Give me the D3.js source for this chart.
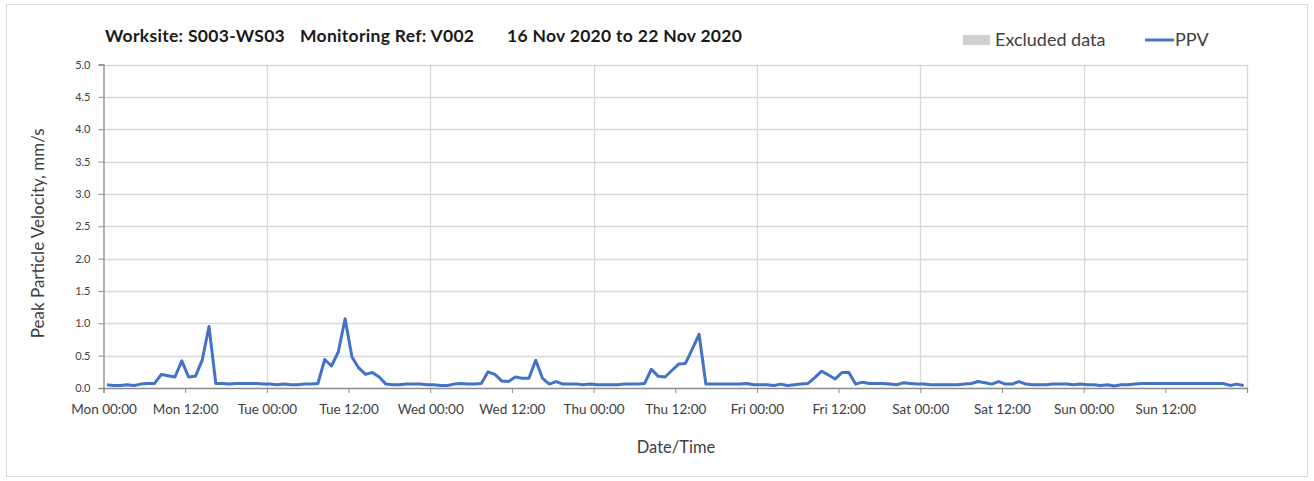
<!DOCTYPE html>
<html>
<head>
<meta charset="utf-8">
<script src="https://cdn.jsdelivr.net/npm/d3@7"></script>
<style>
  html, body { margin: 0; padding: 0; background: #fff; }
  svg { display: block; font-family: Lato, "Open Sans", sans-serif; }
</style>
</head>
<body>
<svg id="chart" width="1314" height="481"></svg>
<script>
// ---- Data ----
const titleParts = ["Worksite: S003-WS03", "Monitoring Ref: V002", "16 Nov 2020 to 22 Nov 2020"];
const legendLabels = ["Excluded data", "PPV"];
const yTickValues = [0, 0.5, 1.0, 1.5, 2.0, 2.5, 3.0, 3.5, 4.0, 4.5, 5.0];
const xTickLabels = ["Mon 00:00", "Mon 12:00", "Tue 00:00", "Tue 12:00", "Wed 00:00", "Wed 12:00",
  "Thu 00:00", "Thu 12:00", "Fri 00:00", "Fri 12:00", "Sat 00:00", "Sat 12:00", "Sun 00:00", "Sun 12:00"];
const periodStart = new Date(2020, 10, 16, 0, 0);
const periodEnd = new Date(2020, 10, 23, 0, 0);
const firstReading = new Date(2020, 10, 16, 0, 30);   // hourly readings
const ppvValues = [
  // Mon
  0.05, 0.04, 0.04, 0.05, 0.04, 0.06, 0.07, 0.07, 0.21, 0.19, 0.17, 0.42,
  0.17, 0.18, 0.43, 0.95, 0.07, 0.07, 0.06, 0.07, 0.07, 0.07, 0.07, 0.06,
  // Tue
  0.06, 0.05, 0.06, 0.05, 0.05, 0.06, 0.06, 0.07, 0.44, 0.34, 0.56, 1.07,
  0.48, 0.31, 0.21, 0.24, 0.17, 0.06, 0.05, 0.05, 0.06, 0.06, 0.06, 0.05,
  // Wed
  0.05, 0.04, 0.04, 0.06, 0.07, 0.06, 0.06, 0.07, 0.25, 0.21, 0.11, 0.10,
  0.17, 0.15, 0.15, 0.43, 0.15, 0.06, 0.10, 0.06, 0.06, 0.06, 0.05, 0.06,
  // Thu
  0.05, 0.05, 0.05, 0.05, 0.06, 0.06, 0.06, 0.07, 0.29, 0.18, 0.17, 0.27,
  0.37, 0.38, 0.60, 0.83, 0.06, 0.06, 0.06, 0.06, 0.06, 0.06, 0.07, 0.05,
  // Fri
  0.05, 0.05, 0.04, 0.06, 0.04, 0.05, 0.06, 0.07, 0.16, 0.26, 0.20, 0.14,
  0.24, 0.24, 0.06, 0.09, 0.07, 0.07, 0.07, 0.06, 0.05, 0.08, 0.07, 0.06,
  // Sat
  0.06, 0.05, 0.05, 0.05, 0.05, 0.05, 0.06, 0.07, 0.10, 0.08, 0.06, 0.10,
  0.06, 0.06, 0.10, 0.06, 0.05, 0.05, 0.05, 0.06, 0.06, 0.06, 0.05, 0.06,
  // Sun
  0.05, 0.05, 0.04, 0.05, 0.03, 0.05, 0.05, 0.06, 0.07, 0.07, 0.07, 0.07,
  0.07, 0.07, 0.07, 0.07, 0.07, 0.07, 0.07, 0.07, 0.07, 0.04, 0.06, 0.04
];

// ---- Build ----
const HOUR = 3600 * 1000;
const readings = ppvValues.map((v, i) => ({ t: new Date(firstReading.getTime() + i * HOUR), v }));

const svg = d3.select("#chart");
const plot = { left: 103.5, right: 1247, top: 64.5, bottom: 388 };

const x = d3.scaleTime().domain([periodStart, periodEnd]).range([plot.left, plot.right]);
const y = d3.scaleLinear().domain([0, 5]).range([plot.bottom, plot.top]);

// outer border
svg.append("rect").attr("x", 6.5).attr("y", 4.5).attr("width", 1301).attr("height", 472)
  .attr("fill", "#fff").attr("stroke", "#d9d9d9").attr("stroke-width", 1);

const gridColor = "#d9d9d9";
const axisColor = "#8c8c8c";

// horizontal gridlines
svg.append("g").selectAll("line").data(yTickValues.filter(d => d > 0)).join("line")
  .attr("x1", plot.left).attr("x2", plot.right)
  .attr("y1", d => Math.round(y(d)) + 0.5).attr("y2", d => Math.round(y(d)) + 0.5)
  .attr("stroke", gridColor).attr("stroke-width", 1.3);

// vertical gridlines at day boundaries
const dayTicks = d3.timeDay.range(d3.timeDay.offset(periodStart, 1), d3.timeDay.offset(periodEnd, 1));
svg.append("g").selectAll("line").data(dayTicks).join("line")
  .attr("x1", d => Math.round(x(d)) + 0.5).attr("x2", d => Math.round(x(d)) + 0.5)
  .attr("y1", plot.top).attr("y2", plot.bottom)
  .attr("stroke", gridColor).attr("stroke-width", 1.3);

// y axis
const yAxis = d3.axisLeft(y).tickValues(yTickValues).tickSize(5).tickPadding(8)
  .tickFormat(d3.format(".1f"));
const gy = svg.append("g").attr("transform", `translate(${plot.left},0)`).call(yAxis);
gy.select(".domain").attr("stroke", axisColor).attr("stroke-width", 1.3);
gy.selectAll(".tick line").attr("stroke", axisColor);
gy.selectAll(".tick text").attr("fill", "#404040").style("font-size", "11px")
  .style("font-family", "Lato, sans-serif");

// x axis
const xTicks = d3.timeHour.every(12).range(periodStart, d3.timeHour.offset(periodEnd, 1));
const xAxis = d3.axisBottom(x).tickValues(xTicks).tickSize(5).tickPadding(11)
  .tickFormat((d, i) => xTickLabels[i] || "");
const gx = svg.append("g").attr("transform", `translate(0,${plot.bottom})`).call(xAxis);
gx.select(".domain").attr("stroke", axisColor).attr("stroke-width", 1.3);
gx.selectAll(".tick line").attr("stroke", axisColor);
gx.selectAll(".tick text").attr("fill", "#404040").style("font-size", "13.5px")
  .style("font-family", "Lato, sans-serif");

// PPV line
const line = d3.line().x(d => x(d.t)).y(d => y(d.v)).curve(d3.curveLinear);
svg.append("path").datum(readings).attr("d", line)
  .attr("fill", "none").attr("stroke", "#4472C4").attr("stroke-width", 3)
  .attr("stroke-linejoin", "round").attr("stroke-linecap", "butt");

// title
const titleX = [105, 300, 507];
svg.append("g").selectAll("text").data(titleParts).join("text")
  .attr("x", (d, i) => titleX[i]).attr("y", 42)
  .attr("fill", "#1a1a1a").style("font-weight", "bold").style("font-size", "17.5px")
  .style("letter-spacing", "0.3px")
  .style("font-family", "Lato, sans-serif")
  .text(d => d);

// legend
svg.append("rect").attr("x", 963).attr("y", 35).attr("width", 27).attr("height", 10).attr("fill", "#d0d0d0");
svg.append("text").attr("x", 995).attr("y", 46).attr("fill", "#404040")
  .style("font-size", "18px").text(legendLabels[0]);
svg.append("line").attr("x1", 1145).attr("x2", 1174).attr("y1", 40).attr("y2", 40)
  .attr("stroke", "#4472C4").attr("stroke-width", 3);
svg.append("text").attr("x", 1175).attr("y", 46).attr("fill", "#404040")
  .style("font-size", "18px").text(legendLabels[1]);

// axis titles
svg.append("text").attr("transform", `translate(44,${(plot.top + plot.bottom) / 2 + 7}) rotate(-90)`)
  .attr("text-anchor", "middle").attr("fill", "#404040").style("font-size", "17px")
  .text("Peak Particle Velocity, mm/s");
svg.append("text").attr("x", 676).attr("y", 453).attr("text-anchor", "middle")
  .attr("fill", "#404040").style("font-size", "16.5px").text("Date/Time");
</script>
</body>
</html>
